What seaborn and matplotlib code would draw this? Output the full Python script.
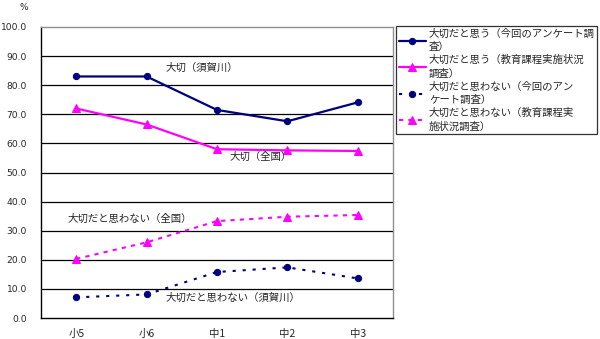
import matplotlib
matplotlib.use("Agg")
import matplotlib.pyplot as plt
import seaborn as sns
import pandas as pd
import numpy as np

sns.set_style("white")
plt.rcParams['font.family'] = ['Noto Sans CJK JP', 'DejaVu Sans']

grades = ["小5", "小6", "中1", "中2", "中3"]
important_local = [83.0, 83.0, 71.5, 67.6, 74.1]
important_national = [72.0, 66.5, 58.0, 57.6, 57.4]
not_important_local = [7.1, 8.1, 15.8, 17.4, 13.6]
not_important_national = [20.3, 26.0, 33.3, 34.8, 35.4]

labels = [
    "大切だと思う（今回のアンケート調\n査）",
    "大切だと思う（教育課程実施状況\n調査）",
    "大切だと思わない（今回のアン\nケート調査）",
    "大切だと思わない（教育課程実\n施状況調査）",
]
yticks = [0, 10, 20, 30, 40, 50, 60, 70, 80, 90, 100]

navy = "#000080"
magenta = "#FF00FF"

fig = plt.figure(figsize=(6.0, 3.39), dpi=100)
ax = fig.add_axes([41/600, 1-318/339, (393-41)/600, (318-27)/339])

series = [
    (important_local, navy, "o", 4.5, None, 1.6),
    (important_national, magenta, "^", 5.5, None, 1.6),
    (not_important_local, navy, "o", 4.5, (1.5, 3.3), 1.5),
    (not_important_national, magenta, "^", 5.5, (2.0, 2.5), 1.5),
]
for (vals, col, mk, ms, dash, lw), lab in zip(series, labels):
    d = pd.DataFrame({"grade": grades, "v": vals})
    sns.lineplot(data=d, x="grade", y="v", ax=ax, color=col, marker=mk,
                 markersize=ms, markeredgecolor=col, linewidth=lw,
                 label=lab, sort=False)
    line = ax.lines[-1]
    if dash is not None:
        line.set_dashes(dash)

ax.set_xlim(-0.5, 4.5)
ax.set_ylim(0, 100)
ax.set_yticks(yticks)
ax.set_yticklabels([f"{v:.1f}" for v in yticks], fontsize=6.6, family='DejaVu Sans')
ax.set_xticks(range(len(grades)))
ax.set_xticklabels(grades, fontsize=7.5)
ax.set_xticks(np.arange(0.5, 4.5, 1.0), minor=True)
ax.tick_params(axis='x', which='major', length=0, pad=8)
ax.tick_params(axis='x', which='minor', length=3, color='black', width=0.8, direction='out')
ax.tick_params(axis='y', length=3, width=0.8, color='black', direction='out', pad=7)
ax.set_xlabel("")
ax.set_ylabel("")
for y in yticks[1:-1]:
    ax.axhline(y, color="black", linewidth=0.9, zorder=0)
ax.spines['left'].set_color('black')
ax.spines['bottom'].set_color('black')
ax.spines['top'].set_color('#909090')
ax.spines['right'].set_color('#909090')
for s in ax.spines.values():
    s.set_linewidth(1.0)

fs = 7.5
ax.text(1.27, 86, "大切（須賀川）", fontsize=fs, va='center')
ax.text(2.18, 55.5, "大切（全国）", fontsize=fs, va='center')
ax.text(-0.12, 34.2, "大切だと思わない（全国）", fontsize=fs, va='center')
ax.text(1.27, 7.0, "大切だと思わない（須賀川）", fontsize=fs, va='center')
fig.text(19/600, 1-7/339, "%", fontsize=6.5, va='center', family='DejaVu Sans')

handles, labs = ax.get_legend_handles_labels()
ax.get_legend().remove()
leg = fig.legend(handles, labs, loc='upper left',
                 bbox_to_anchor=(396/600, 1-26/339), fontsize=7.5,
                 frameon=True, fancybox=False, edgecolor='black',
                 handlelength=2.6, handletextpad=0.3, borderaxespad=0,
                 labelspacing=0.25, borderpad=0.25)
for t in leg.get_texts():
    t.set_linespacing(1.45)
leg.get_frame().set_linewidth(0.9)

fig.savefig("out.png", dpi=100)
